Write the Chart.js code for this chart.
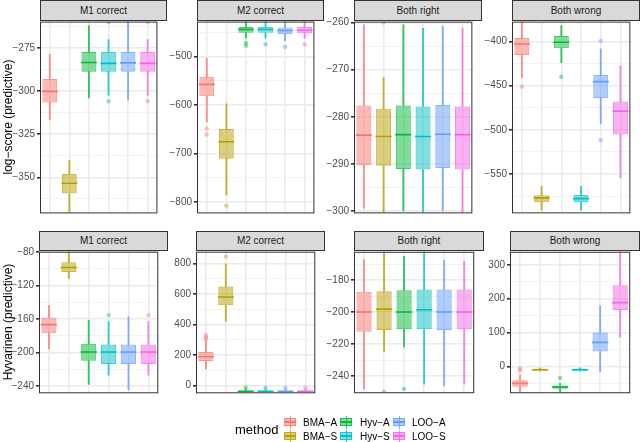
<!DOCTYPE html>
<html>
<head>
<meta charset="utf-8">
<script src="https://cdn.jsdelivr.net/npm/chart.js@4.4.1/dist/chart.umd.min.js"></script>
<style>
  body { margin: 0; background: #fff; font-family: "Liberation Sans", Arial, sans-serif; }
  #wrap { position: relative; width: 640px; height: 442px; overflow: hidden; }
  .strip { position: absolute; box-sizing: border-box; background: #d9d9d9; border: 1px solid #333;
           font-size: 10px; color: #1a1a1a; text-align: center; }
  .panel { position: absolute; }
  .ytitle { position: absolute; font-size: 12px; color: #000; white-space: nowrap;
            transform: translate(-50%, -50%) rotate(-90deg); }
  .lg-title { position: absolute; font-size: 13px; color: #000; transform: translateY(-50%); }
  .lg-key { position: absolute; width: 13px; height: 13px; }
  .lg-key span { position: absolute; box-sizing: border-box; }
  .lg-label { position: absolute; font-size: 10px; color: #000; transform: translateY(-50%); white-space: nowrap; }
</style>
</head>
<body>
<div id="wrap"></div>
<script>
const methods = ["BMA\u2212A", "BMA\u2212S", "Hyv\u2212A", "Hyv\u2212S", "LOO\u2212A", "LOO\u2212S"];
const methodColors = ["#F8766D", "#B79F00", "#00BA38", "#00BFC4", "#619CFF", "#F564E3"];

// box summaries per method: [lower whisker, q1, median, q3, upper whisker]
const logM1Box = [
  [-316.6, -306.6, -300.2, -293, -278.8],
  [-375, -359.4, -353.4, -348, -340.3],
  [-304, -288.8, -283.5, -277.4, -262.1],
  [-302.4, -288.8, -284, -277.4, -270.2],
  [-305.3, -288.8, -283.7, -277.4, -259],
  [-302.4, -288.8, -284, -277.4, -270.2]
];
const logM1Out = [[], [], [], [-305.9, -260], [], [-305.9, -260]];
const logM1Ticks = [-350, -325, -300, -275];
const logM1Range = [-370.3, -259.8];

const logM2Box = [
  [-635, -582, -557.7, -542, -504],
  [-786, -711, -676, -650, -598],
  [-462, -451, -444.5, -439, -425],
  [-462, -451, -444.5, -439, -425],
  [-467.5, -454, -446.5, -440, -425],
  [-462, -452, -446, -439, -425]
];
const logM2Out = [[-649, -661], [-808], [-472, -478], [-475], [-480.5], [-475]];
const logM2Ticks = [-800, -700, -600, -500];
const logM2Range = [-822, -428];

const logBrBox = [
  [-299.4, -290.3, -283.9, -277.6, -260.5],
  [-301, -290.4, -284.2, -278.3, -271.7],
  [-300, -291.1, -283.8, -277.6, -260.5],
  [-301, -291.2, -284.2, -277.8, -261.2],
  [-300, -290.9, -283.7, -277.5, -260.8],
  [-301, -291.2, -283.8, -277.8, -261.2]
];
const logBrOut = [[], [-260], [], [], [], []];
const logBrTicks = [-300, -290, -280, -270, -260];
const logBrRange = [-300.3, -259.8];

const logBwBox = [
  [-440.5, -415.3, -402.7, -396, -375],
  [-591, -582, -577, -574, -564],
  [-423.8, -407.5, -400.8, -393.8, -382],
  [-591, -582, -577.8, -573.7, -564],
  [-492.9, -463.9, -445.3, -437.9, -408.2],
  [-553.7, -505.1, -478.7, -467.9, -427.5]
];
const logBwOut = [[-451], [], [-439.8], [], [-399.4, -511.8], []];
const logBwTicks = [-550, -500, -450, -400];
const logBwRange = [-593.4, -377.4];

const hyvM1Box = [
  [-195.7, -177, -166.6, -158, -143.7],
  [-111.4, -104, -98.6, -92.4, -78],
  [-238, -209.7, -199.2, -189.5, -161.5],
  [-227, -213.5, -199.2, -190.2, -163],
  [-244.6, -213.5, -199.2, -190.2, -157.3],
  [-227, -213.5, -199.2, -190.2, -163]
];
const hyvM1Out = [[], [], [], [-155.3], [], [-155.3]];
const hyvM1Ticks = [-240, -200, -160, -120, -80];
const hyvM1Range = [-247.3, -79.7];

const hyvM2Box = [
  [109, 160, 188, 220, 291],
  [419, 526, 580, 648, 798],
  [-60, -45, -40, -32, -24],
  [-60, -45, -40, -32, -24],
  [-60, -45, -40, -32, -24],
  [-60, -45, -40, -32, -24]
];
const hyvM2Out = [[305, 315, 330], [845], [-15], [-15], [-15], [-15]];
const hyvM2Ticks = [0, 200, 400, 600, 800];
const hyvM2Range = [-45, 877];

const hyvBrBox = [
  [-247.9, -212.3, -199.9, -187.3, -167.2],
  [-224.7, -211.1, -198.1, -186.9, -160],
  [-221.7, -210.7, -199.9, -186.3, -165.2],
  [-244.9, -210.7, -198.5, -185.9, -160],
  [-246.1, -211.1, -199.9, -185.9, -167.6],
  [-244.9, -210.7, -199.9, -185.9, -168.2]
];
const hyvBrOut = [[], [-249.6], [-247.9], [], [], []];
const hyvBrTicks = [-240, -220, -200, -180];
const hyvBrRange = [-250, -162.3];

const hyvBwBox = [
  [-80, -59.6, -50, -40.4, -25],
  [-14, -12.5, -9.6, -6.7, -4],
  [-80, -66, -60.6, -55.8, -50],
  [-14, -12.5, -9.6, -6.7, -4],
  [-14.4, 44, 71, 100, 178.8],
  [86.5, 167, 188.5, 240, 345]
];
const hyvBwOut = [[-6, -11.5], [], [-33.7], [], [], []];
const hyvBwTicks = [0, 100, 200, 300];
const hyvBwRange = [-76, 338.5];

const stripTitles = ["M1 correct", "M2 correct", "Both right", "Both wrong"];
const rowTitles = ["log\u2212score (predictive)", "Hyvarinen (predictive)"];

const AXIS_W = 30;
const PAD = 8;

const rgba = (hex, a) => {
  const n = parseInt(hex.slice(1), 16);
  return `rgba(${n >> 16}, ${(n >> 8) & 255}, ${n & 255}, ${a})`;
};
const fmt = (v) => (v < 0 ? "\u2212" + Math.abs(v) : String(v));

const wrap = document.getElementById("wrap");

const panelBorder = {
  id: "panelBorder",
  afterDraw(chart) {
    const { ctx, chartArea: a } = chart;
    ctx.save();
    ctx.strokeStyle = "#333333";
    ctx.lineWidth = 1;
    ctx.strokeRect(a.left + 0.5, a.top + 0.5, a.right - a.left - 1, a.bottom - a.top);
    ctx.restore();
  }
};

function addStrip(text, left, top, width, height) {
  const div = document.createElement("div");
  div.className = "strip";
  Object.assign(div.style, { left: left + "px", top: top + "px", width: width + "px",
    height: height + "px", lineHeight: (height - 2) + "px" });
  div.textContent = text;
  wrap.appendChild(div);
}

function drawPanel(p) {
  const canvas = document.createElement("canvas");
  canvas.className = "panel";
  canvas.width = AXIS_W + p.width + 1;
  canvas.height = p.height + PAD * 2;
  canvas.style.left = (p.left - AXIS_W) + "px";
  canvas.style.top = (p.top - PAD) + "px";
  wrap.appendChild(canvas);

  const step = p.ticks[1] - p.ticks[0];
  const all = [];
  p.ticks.forEach((t) => { all.push(t, t - step / 2); });
  all.push(p.ticks[p.ticks.length - 1] + step / 2);
  const gridTicks = all.filter((v) => v >= p.range[0] && v <= p.range[1]).sort((a, b) => a - b);
  const isMajor = (v) => p.ticks.includes(v);

  const radius = (p.width / methods.length) * 0.76 / 2;
  const outliers = [];
  p.out.forEach((vals, i) => vals.forEach((v) => outliers.push({ x: methods[i], y: v })));

  new Chart(canvas, {
    data: {
      labels: methods,
      datasets: [
        {
          type: "line",
          data: p.box.map((b) => b[2]),
          showLine: false,
          pointStyle: "line",
          pointRadius: radius,
          pointHoverRadius: radius,
          pointBorderWidth: 1.6,
          pointBorderColor: methodColors,
          clip: 0
        },
        {
          type: "line",
          data: outliers,
          showLine: false,
          pointRadius: 2.2,
          pointBorderWidth: 0,
          pointBackgroundColor: (c) => rgba(methodColors[methods.indexOf(c.raw.x)], 0.45),
          clip: 0
        },
        {
          type: "bar",
          data: p.box.map((b) => [b[1], b[3]]),
          backgroundColor: methodColors.map((c) => rgba(c, 0.5)),
          borderColor: methodColors.map((c) => rgba(c, 0.75)),
          borderWidth: 1,
          borderSkipped: false,
          grouped: false,
          barPercentage: 0.76,
          categoryPercentage: 1,
          clip: 0
        },
        {
          type: "bar",
          data: p.box.map((b) => [b[3], b[4]]),
          backgroundColor: methodColors.map((c) => rgba(c, 0.8)),
          barThickness: 1.2,
          grouped: false,
          clip: 0
        },
        {
          type: "bar",
          data: p.box.map((b) => [b[0], b[1]]),
          backgroundColor: methodColors.map((c) => rgba(c, 0.8)),
          barThickness: 1.2,
          grouped: false,
          clip: 0
        }
      ]
    },
    options: {
      responsive: false,
      animation: false,
      events: [],
      layout: { padding: { top: PAD, bottom: PAD, left: 0, right: 1 } },
      plugins: { legend: { display: false }, tooltip: { enabled: false } },
      scales: {
        x: {
          type: "category",
          offset: true,
          border: { display: false },
          grid: { offset: false, color: "#EBEBEB", lineWidth: 1.6, drawTicks: false },
          ticks: { display: false },
          afterFit: (s) => { s.height = 0; }
        },
        y: {
          type: "linear",
          min: p.range[0],
          max: p.range[1],
          border: { display: false },
          afterBuildTicks: (s) => { s.ticks = gridTicks.map((v) => ({ value: v })); },
          afterFit: (s) => { s.width = AXIS_W; },
          grid: {
            color: (c) => (c.tick && isMajor(c.tick.value) ? "#EBEBEB" : "#F2F2F2"),
            lineWidth: (c) => (c.tick && isMajor(c.tick.value) ? 1.6 : 1),
            tickColor: (c) => (c.tick && isMajor(c.tick.value) ? "#333333" : "rgba(0,0,0,0)"),
            tickLength: 3
          },
          ticks: {
            autoSkip: false,
            padding: 2,
            color: "#4D4D4D",
            font: { size: 10, family: "'Liberation Sans', Arial, sans-serif" },
            callback: (v) => (isMajor(v) ? fmt(v) : "")
          }
        }
      }
    },
    plugins: [panelBorder]
  });
}

const topLefts = [40, 197, 354, 512];
const topWidths = [126, 126, 127, 127];
const botLefts = [39, 196, 354, 510];
const botWidths = [128, 128, 129, 129];

const topPanels = [
  [logM1Box, logM1Out, logM1Ticks, logM1Range],
  [logM2Box, logM2Out, logM2Ticks, logM2Range],
  [logBrBox, logBrOut, logBrTicks, logBrRange],
  [logBwBox, logBwOut, logBwTicks, logBwRange]
];
const botPanels = [
  [hyvM1Box, hyvM1Out, hyvM1Ticks, hyvM1Range],
  [hyvM2Box, hyvM2Out, hyvM2Ticks, hyvM2Range],
  [hyvBrBox, hyvBrOut, hyvBrTicks, hyvBrRange],
  [hyvBwBox, hyvBwOut, hyvBwTicks, hyvBwRange]
];

topPanels.forEach(([box, out, ticks, range], i) => {
  addStrip(stripTitles[i], topLefts[i], 0, topWidths[i] + 1, 21);
  drawPanel({ box, out, ticks, range, left: topLefts[i], width: topWidths[i], top: 20, height: 194 });
});
botPanels.forEach(([box, out, ticks, range], i) => {
  addStrip(stripTitles[i], botLefts[i], 231, botWidths[i] + 1, 20);
  drawPanel({ box, out, ticks, range, left: botLefts[i], width: botWidths[i], top: 250, height: 144 });
});

[[rowTitles[0], 117], [rowTitles[1], 322]].forEach(([text, y]) => {
  const div = document.createElement("div");
  div.className = "ytitle";
  div.style.left = "8px";
  div.style.top = y + "px";
  div.textContent = text;
  wrap.appendChild(div);
});

// legend
const lgTitle = document.createElement("div");
lgTitle.className = "lg-title";
lgTitle.style.left = "235px";
lgTitle.style.top = "429px";
lgTitle.textContent = "method";
wrap.appendChild(lgTitle);

const keyX = [290, 346, 399];
const labelX = [303, 360, 412];
const rowY = [422, 436];
methods.forEach((m, i) => {
  const col = Math.floor(i / 2), row = i % 2;
  const c = methodColors[i];
  const key = document.createElement("div");
  key.className = "lg-key";
  key.style.left = (keyX[col] - 6.5) + "px";
  key.style.top = (rowY[row] - 6.5) + "px";
  key.innerHTML =
    `<span style="left:6px;top:0;width:1.2px;height:13px;background:${rgba(c, 0.8)}"></span>` +
    `<span style="left:0.5px;top:2.5px;width:12px;height:8px;background:${rgba(c, 0.5)};border:1px solid ${rgba(c, 0.75)}"></span>` +
    `<span style="left:1px;top:5.8px;width:11px;height:1.5px;background:${c}"></span>`;
  wrap.appendChild(key);
  const lab = document.createElement("div");
  lab.className = "lg-label";
  lab.style.left = labelX[col] + "px";
  lab.style.top = rowY[row] + "px";
  lab.textContent = m;
  wrap.appendChild(lab);
});
</script>
</body>
</html>
